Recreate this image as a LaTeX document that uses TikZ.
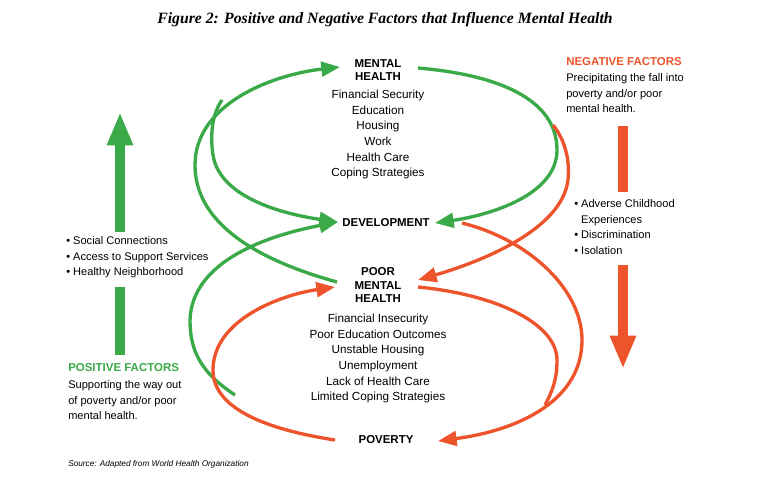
\documentclass[tikz,border=0pt]{standalone}
\usepackage{fontspec}
\setmainfont{Liberation Sans}
\newfontfamily\titlefont{Liberation Serif}
\usetikzlibrary{arrows.meta}
\definecolor{gr}{RGB}{58,170,72}
\definecolor{rd}{RGB}{238,84,44}
\begin{document}
\begin{tikzpicture}[x=0.75pt,y=-0.75pt,
  lbl/.style={align=center,inner sep=0pt},
  hd/.style={font=\fontsize{8.6}{9.6}\selectfont\bfseries,align=center,inner sep=0pt},
  side/.style={font=\fontsize{8.3}{11.8}\selectfont,align=left,anchor=north west,inner sep=0pt},
  cv/.style={line width=2.5pt,-{Triangle[length=14pt,width=11pt]}},
  cvn/.style={line width=2.5pt},
  big/.style={line width=7.5pt,-{Triangle[length=25pt,width=18pt]}}]
\useasboundingbox (0,0) rectangle (760,482);
\node[font=\titlefont\fontsize{11.8}{13}\selectfont\bfseries\itshape] (title) at (385,20) {Figure 2: Positive and Negative Factors that Influence Mental Health};

\node[hd] (mh) at (378,70) {MENTAL\\HEALTH};
\node[lbl,anchor=north,font=\fontsize{8.8}{11.7}\selectfont] (mhl) at (378,90) {Financial Security\\Education\\Housing\\Work\\Health Care\\Coping Strategies};
\node[hd] (dev) at (386,223) {DEVELOPMENT};
\node[hd,font=\fontsize{8.6}{9.9}\selectfont\bfseries] (pmh) at (378,285) {POOR\\MENTAL\\HEALTH};
\node[lbl,anchor=north,font=\fontsize{8.8}{11.7}\selectfont] (pml) at (378,314) {Financial Insecurity\\Poor Education Outcomes\\Unstable Housing\\Unemployment\\Lack of Health Care\\Limited Coping Strategies};
\node[hd] (pov) at (386,440) {POVERTY};

\node[side] (pb) at (66,236) {• Social Connections\\• Access to Support Services\\• Healthy Neighborhood};
\node[side,font=\fontsize{8.6}{10}\selectfont\bfseries,text=gr] (pf) at (68,363) {POSITIVE FACTORS};
\node[side] (pt) at (68,380) {Supporting the way out\\of poverty and/or poor\\mental health.};
\node[side,font=\fontsize{8.6}{10}\selectfont\bfseries,text=rd] (nf) at (566,57) {NEGATIVE FACTORS};
\node[side] (nt) at (566,73) {Precipitating the fall into\\poverty and/or poor\\mental health.};
\node[side] (nb) at (574,199) {• Adverse Childhood\\\phantom{• }Experiences\\• Discrimination\\• Isolation};
\node[side,font=\fontsize{6.2}{7}\selectfont\itshape] (src) at (68,460) {Source: Adapted from World Health Organization};

\coordinate (ga1) at (120,232); \coordinate (ga2) at (120,112);
\coordinate (gb1) at (120,355); \coordinate (gb2) at (120,287);
\coordinate (ra1) at (623,126); \coordinate (ra2) at (623,192);
\coordinate (rb1) at (623,265); \coordinate (rb2) at (623,369);
\draw[gr,line width=7.5pt] (gb1) -- (gb2);
\draw[gr,big] (ga1) -- (ga2);
\draw[rd,line width=7.5pt] (ra1) -- (ra2);
\draw[rd,big] (rb1) -- (rb2);

% green curves
\draw[gr,cv] (337,282) .. controls (250,258) and (195,220) .. (195,165) .. controls (195,105) and (270,75) .. (340,67);
\draw[gr,cv] (222,100) .. controls (212,114) and (210,135) .. (213,155) .. controls (220,200) and (290,215) .. (338,222);
\draw[gr,cv] (235,395) .. controls (200,372) and (190,350) .. (190,320) .. controls (192,260) and (270,235) .. (338,222);
\draw[gr,cv] (418,68) .. controls (500,75) and (557,100) .. (557,150) .. controls (557,195) and (490,215) .. (435,223);
% red curves
\draw[rd,cv] (553,125) .. controls (565,140) and (570,160) .. (568,180) .. controls (562,230) and (480,262) .. (418,280);
\draw[rd,cv] (462,223) .. controls (530,240) and (582,290) .. (582,340) .. controls (582,400) and (520,430) .. (438,441);
\draw[rd,cvn] (418,287) .. controls (500,295) and (557,325) .. (557,360) .. controls (557,380) and (552,392) .. (545,405);
\draw[rd,cv] (335,440) .. controls (270,430) and (213,410) .. (213,370) .. controls (213,320) and (280,295) .. (335,287);
\end{tikzpicture}
\end{document}
